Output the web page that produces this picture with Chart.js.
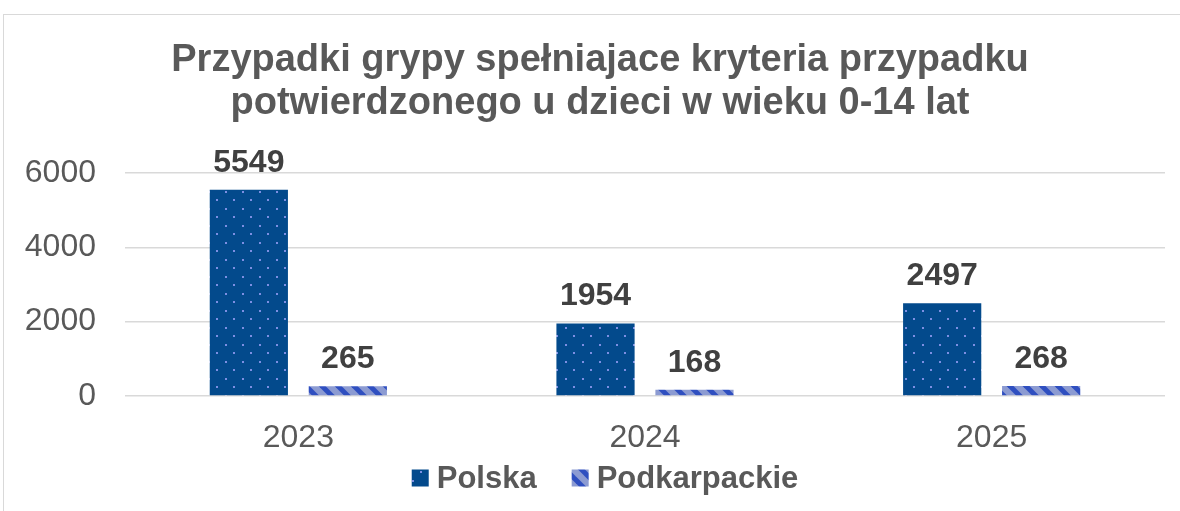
<!DOCTYPE html>
<html><head><meta charset="utf-8">
<script src="https://cdn.jsdelivr.net/npm/chart.js@4/dist/chart.umd.min.js"></script>
<style>
html,body{margin:0;padding:0;background:#fff;}
#wrap{position:relative;width:1180px;height:511px;overflow:hidden;}
#frame{position:absolute;left:3px;top:14px;width:1200px;height:600px;border:1px solid #d9d9d9;box-sizing:border-box;}
canvas{position:absolute;left:0;top:0;}
</style></head>
<body><div id="wrap"><div id="frame"></div><canvas id="c" width="1180" height="511"></canvas></div>
<script>
const titleLines = ['Przypadki grypy spełniajace kryteria przypadku', 'potwierdzonego u dzieci w wieku 0-14 lat'];
const categories = ['2023', '2024', '2025'];
const seriesNames = ['Polska', 'Podkarpackie'];
const polskaValues = [5549, 1954, 2497];
const podkarpackieValues = [265, 168, 268];
const yTicks = [0, 2000, 4000, 6000];

function dotPattern(){
  const c = document.createElement('canvas'); c.width = 17; c.height = 17;
  const g = c.getContext('2d');
  g.fillStyle = '#034a8c'; g.fillRect(0,0,17,17);
  g.fillStyle = '#7d8fe3';
  g.fillRect(4,4,2,2); g.fillRect(12,12,2,2);
  return g.createPattern(c,'repeat');
}
function stripePattern(){
  const c = document.createElement('canvas'); c.width = 16; c.height = 16;
  const g = c.getContext('2d');
  g.fillStyle = '#8c9bd2'; g.fillRect(0,0,16,16);
  g.strokeStyle = '#2f4fc0'; g.lineWidth = 5;
  for (const k of [-16,0,16]) { g.beginPath(); g.moveTo(-4, -4 + k); g.lineTo(20, 20 + k); g.stroke(); }
  return g.createPattern(c,'repeat');
}

const FONT = '"Liberation Sans", Arial, sans-serif';
const labelPlugin = {
  id: 'vals',
  afterDatasetsDraw(chart){
    const ctx = chart.ctx;
    ctx.save();
    ctx.font = 'bold 32px ' + FONT;
    ctx.fillStyle = '#404040';
    ctx.textAlign = 'center';
    ctx.textBaseline = 'middle';
    chart.data.datasets.forEach((ds, i) => {
      chart.getDatasetMeta(i).data.forEach((bar, j) => {
        ctx.fillText(String(ds.data[j]), bar.x, bar.y - 27);
      });
    });
    ctx.restore();
  }
};
const titleLegendPlugin = {
  id: 'titleLegend',
  afterDraw(chart){
    const ctx = chart.ctx;
    ctx.save();
    ctx.font = 'bold 38px ' + FONT;
    ctx.fillStyle = '#595959';
    ctx.textAlign = 'center';
    ctx.textBaseline = 'middle';
    titleLines.forEach((t, i) => ctx.fillText(t, 600, 61 + i * 43));
    ctx.font = 'bold 31px ' + FONT;
    ctx.textAlign = 'left';
    const box = 17, gap = 8, spacing = 35;
    const widths = chart.data.datasets.map(d => ctx.measureText(d.label).width);
    const total = widths.reduce((a, w) => a + box + gap + w, 0) + spacing * (widths.length - 1);
    let x = 605 - total / 2;
    const cy = 478;
    chart.data.datasets.forEach((d, i) => {
      ctx.fillStyle = d.backgroundColor;
      ctx.fillRect(x, cy - box / 2, box, box);
      ctx.fillStyle = '#595959';
      ctx.fillText(d.label, x + box + gap, cy + 1);
      x += box + gap + widths[i] + spacing;
    });
    ctx.restore();
  }
};

new Chart(document.getElementById('c'), {
  type: 'bar',
  data: {
    labels: categories,
    datasets: [
      { label: seriesNames[0], data: polskaValues, backgroundColor: dotPattern(), borderWidth: 0 },
      { label: seriesNames[1], data: podkarpackieValues, backgroundColor: stripePattern(), borderWidth: 0 }
    ]
  },
  options: {
    responsive: false,
    animation: false,
    devicePixelRatio: 1,
    barPercentage: 0.79,
    categoryPercentage: 0.571,
    layout: { padding: { left: 0, right: 15, top: 173, bottom: 57 } },
    plugins: {
      title: { display: false },
      legend: { display: false },
      tooltip: { enabled: false }
    },
    scales: {
      x: {
        afterFit(s){ s.height = 58; },
        grid: { display: false, drawTicks: false },
        border: { display: false },
        ticks: { color: '#595959', font: { family: FONT, size: 32 }, padding: 23 }
      },
      y: {
        min: 0, max: 6000,
        afterFit(s){ s.width = 125; },
        afterBuildTicks(s){ s.ticks = yTicks.map(v => ({ value: v })); },
        grid: { color: '#d9d9d9', lineWidth: 1.5, drawTicks: false },
        border: { display: false },
        ticks: { color: '#595959', font: { family: FONT, size: 32 }, padding: 29, callback: v => String(v) }
      }
    }
  },
  plugins: [labelPlugin, titleLegendPlugin]
});
</script></body></html>
